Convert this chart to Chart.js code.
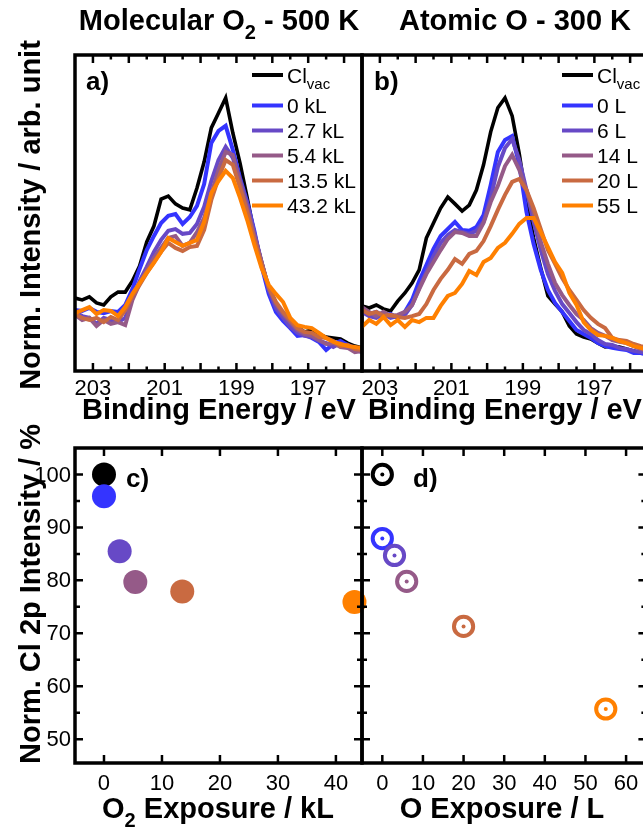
<!DOCTYPE html>
<html>
<head>
<meta charset="utf-8">
<script src="https://cdn.jsdelivr.net/npm/chart.js@4.4.0/dist/chart.umd.min.js"></script>
<style>
  html, body { margin: 0; padding: 0; background: #fff; width: 643px; height: 829px; overflow: hidden; }
  canvas { position: absolute; left: 0; top: 0; }
</style>
</head>
<body>
<canvas id="panelA" width="660" height="829"></canvas>
<canvas id="panelB" width="660" height="829"></canvas>
<canvas id="panelC" width="660" height="829"></canvas>
<canvas id="panelD" width="660" height="829"></canvas>
<script>
// ---------- data ----------
// Cl 2p binding energy grid (eV)
const bindingEnergy = [203.5, 203.3, 203.1, 202.9, 202.7, 202.5, 202.3, 202.1, 201.9, 201.7,
  201.5, 201.3, 201.1, 200.9, 200.7, 200.5, 200.3, 200.1, 199.9, 199.7,
  199.5, 199.3, 199.1, 198.9, 198.7, 198.5, 198.3, 198.1, 197.9, 197.7,
  197.5, 197.3, 197.1, 196.9, 196.7, 196.5, 196.3, 196.1, 195.9, 195.7, 195.5];
const energyTickLabels = [203, 201, 199, 197];

// a) molecular O2 at 500 K (normalized intensity, arb. units)
const molNames = ['Cl_vac', '0 kL', '2.7 kL', '5.4 kL', '13.5 kL', '43.2 kL'];
const molClvac = [24.3, 23.7, 24.7, 22.7, 22.0, 24.7, 26.3, 26.3, 30.0, 35.0, 43.0, 48.3, 57.3, 58.3, 55.7, 54.3, 53.7, 61.0, 69.7, 81.0, 86.0, 91.0, 79.3, 69.3, 57.7, 45.7, 36.3, 27.7, 22.7, 18.3, 16.3, 14.7, 13.0, 13.7, 12.3, 11.3, 11.0, 10.7, 9.3, 8.3, 7.7];
const mol0kL   = [20.3, 20.0, 21.0, 19.7, 19.3, 20.0, 19.7, 22.0, 27.3, 34.0, 40.3, 45.0, 49.3, 51.7, 52.3, 49.0, 51.3, 55.0, 62.3, 76.0, 80.0, 81.7, 73.7, 64.3, 56.3, 46.7, 35.0, 25.7, 19.7, 16.7, 14.3, 11.7, 12.0, 11.0, 9.7, 7.0, 9.0, 10.0, 8.7, 7.7, 7.0];
const mol2p7kL = [19.7, 18.3, 17.7, 15.7, 17.7, 17.0, 16.3, 17.7, 24.3, 30.0, 34.7, 39.7, 43.7, 46.7, 47.3, 45.7, 46.0, 49.0, 54.7, 63.3, 70.3, 74.7, 71.0, 63.7, 55.7, 46.0, 36.3, 27.0, 21.0, 17.7, 14.7, 12.7, 11.7, 11.3, 10.0, 9.3, 8.0, 9.3, 8.3, 7.0, 6.3];
const mol5p4kL = [18.7, 17.0, 17.7, 15.0, 17.0, 15.7, 16.3, 15.3, 23.7, 29.0, 33.7, 37.7, 41.0, 44.3, 45.0, 41.7, 42.7, 46.3, 51.0, 59.0, 67.0, 73.0, 72.0, 63.0, 54.3, 45.0, 36.3, 27.7, 22.3, 19.0, 16.3, 13.7, 12.3, 11.7, 10.3, 9.0, 9.3, 8.0, 7.7, 6.3, 6.7];
const mol13p5kL = [19.0, 17.7, 17.0, 17.7, 16.3, 18.0, 17.0, 20.3, 25.0, 28.7, 32.7, 36.3, 39.7, 42.7, 41.0, 40.0, 41.3, 41.7, 47.0, 57.0, 64.3, 70.3, 68.7, 61.0, 53.0, 43.7, 35.7, 28.0, 23.0, 19.7, 17.0, 14.3, 13.0, 12.7, 11.3, 11.0, 10.0, 8.3, 8.7, 7.3, 7.0];
const mol43p2kL = [19.3, 20.3, 21.3, 19.0, 20.3, 20.0, 18.3, 21.3, 25.7, 29.3, 32.7, 36.0, 39.7, 44.3, 43.0, 41.7, 42.7, 43.7, 49.7, 59.3, 63.3, 66.7, 64.3, 57.7, 50.3, 42.0, 34.3, 28.7, 25.7, 23.0, 17.7, 15.3, 14.7, 14.3, 12.7, 11.0, 9.7, 9.0, 8.3, 8.0, 7.7];

// b) atomic O at 300 K
const atomNames = ['Cl_vac', '0 L', '6 L', '14 L', '20 L', '55 L'];
const atomClvac = [21.7, 21.0, 22.0, 20.7, 20.0, 23.3, 26.0, 29.3, 33.7, 44.3, 49.3, 54.3, 58.0, 55.7, 53.3, 55.3, 60.3, 68.7, 79.7, 87.7, 91.0, 85.0, 72.3, 57.0, 44.3, 34.3, 25.0, 22.3, 19.7, 15.0, 12.3, 11.3, 10.7, 9.3, 8.0, 8.3, 8.0, 7.3, 6.7, 6.0, 5.7];
const atom0L  = [20.3, 19.0, 19.7, 18.3, 19.0, 17.7, 19.7, 23.7, 30.0, 35.3, 40.7, 45.0, 47.3, 49.7, 47.0, 46.7, 48.0, 52.0, 62.0, 73.0, 77.0, 78.3, 68.7, 53.0, 42.3, 33.7, 27.0, 22.7, 19.7, 16.7, 13.7, 12.3, 11.0, 9.3, 8.3, 7.7, 7.3, 7.0, 6.0, 6.0, 5.3];
const atom6L  = [19.7, 18.3, 17.7, 19.0, 17.7, 18.3, 18.7, 22.0, 27.7, 33.0, 38.3, 42.7, 45.3, 47.0, 46.3, 45.7, 46.7, 49.7, 57.7, 68.0, 74.3, 77.3, 70.3, 60.3, 49.7, 40.3, 32.3, 26.7, 22.3, 19.3, 16.3, 13.7, 12.3, 10.3, 9.0, 8.7, 7.7, 7.3, 6.7, 6.3, 6.0];
const atom14L = [21.3, 19.7, 18.3, 19.7, 18.3, 18.7, 19.7, 22.0, 27.3, 32.3, 36.3, 40.3, 44.0, 46.3, 46.0, 45.0, 45.0, 49.3, 56.3, 61.7, 68.3, 72.0, 67.0, 60.3, 52.7, 43.0, 35.7, 29.3, 25.3, 22.0, 19.0, 17.0, 14.3, 12.7, 11.7, 10.3, 9.7, 9.3, 8.3, 7.3, 6.7];
const atom20L = [20.3, 19.0, 19.7, 18.3, 18.7, 18.0, 17.7, 18.3, 19.0, 22.3, 27.0, 30.7, 33.7, 37.3, 35.7, 39.0, 40.0, 43.3, 48.3, 53.7, 58.7, 63.0, 64.0, 60.3, 54.3, 47.3, 40.3, 35.7, 31.0, 27.0, 23.7, 20.3, 17.7, 15.7, 14.3, 11.0, 10.3, 10.0, 9.0, 8.3, 7.7];
const atom55L = [14.7, 17.0, 15.7, 18.0, 15.3, 17.0, 14.7, 17.0, 16.3, 17.7, 17.7, 21.7, 25.0, 26.0, 29.0, 33.3, 32.0, 36.3, 37.7, 41.0, 42.7, 45.7, 49.0, 51.0, 51.0, 46.3, 41.3, 36.3, 32.7, 26.0, 22.0, 16.3, 13.7, 12.0, 11.7, 11.0, 10.0, 9.3, 8.3, 7.7, 7.0];

// c) integrated Cl 2p intensity vs O2 exposure (first point: Cl_vac reference)
const o2Exposure  = [0, 0, 2.7, 5.4, 13.5, 43.2];
const o2Intensity = [100, 95.9, 85.5, 79.7, 77.9, 75.9];
// d) integrated Cl 2p intensity vs atomic O exposure
const oExposure  = [0, 0, 3, 6, 20, 55];
const oIntensity = [100, 87.9, 84.7, 79.8, 71.3, 55.7];
const percentTickLabels = [50, 60, 70, 80, 90, 100];

// ---------- styling ----------
const FONT = '"Liberation Sans", Arial, Helvetica, sans-serif';
const palette = ['#000000', '#3434ff', '#6749c6', '#955a88', '#c96a41', '#ff8000'];
const TICK_SIZE = 22;

function rich(str) {
  // text between underscores is set as a subscript
  return str.split('_').map((t, i) => ({ t, sub: i % 2 === 1 })).filter(p => p.t.length);
}
function drawParts(ctx, str, x, y, size, bold, align) {
  const parts = rich(str);
  const font = sub => `${bold ? 'bold ' : ''}${sub ? Math.round(size * 0.7) : size}px ${FONT}`;
  let w = 0;
  parts.forEach(p => { ctx.font = font(p.sub); w += ctx.measureText(p.t).width; });
  let cx = align === 'center' ? x - w / 2 : (align === 'right' ? x - w : x);
  ctx.textAlign = 'left';
  ctx.textBaseline = 'alphabetic';
  parts.forEach(p => {
    ctx.font = font(p.sub);
    ctx.fillText(p.t, cx, p.sub ? y + size * 0.3 : y);
    cx += ctx.measureText(p.t).width;
  });
}

// frame, inward tick marks, y tick labels, legend, panel tag and titles
const decor = {
  id: 'decor',
  afterDatasetsDraw(chart, args, o) {
    const ctx = chart.ctx, a = chart.chartArea, xs = chart.scales.x, ys = chart.scales.y;
    ctx.save();
    ctx.strokeStyle = '#000';
    ctx.fillStyle = '#000';
    ctx.lineWidth = 2.5;
    ctx.beginPath();
    (o.xTicks || []).forEach(([v, len]) => {
      const px = xs.getPixelForValue(v);
      ctx.moveTo(px, a.bottom); ctx.lineTo(px, a.bottom - len);
      ctx.moveTo(px, a.top); ctx.lineTo(px, a.top + len);
    });
    (o.yTicks || []).forEach(([v, len]) => {
      const py = ys.getPixelForValue(v);
      ctx.moveTo(a.left, py); ctx.lineTo(a.left + len, py);
      ctx.moveTo(a.right, py); ctx.lineTo(a.right - len, py);
    });
    ctx.stroke();
    ctx.lineWidth = 3.5;
    ctx.strokeRect(a.left, a.top, a.right - a.left, a.bottom - a.top);

    if (o.yLabels) {
      ctx.font = `${TICK_SIZE}px ${FONT}`;
      ctx.textAlign = 'right';
      ctx.textBaseline = 'middle';
      o.yLabels.forEach(v => ctx.fillText(String(v), a.left - 4, ys.getPixelForValue(v) + 1));
    }
    if (o.legend) {
      const L = o.legend;
      L.names.forEach((name, i) => {
        const y = L.rows[i];
        ctx.strokeStyle = palette[i];
        ctx.lineWidth = 4;
        ctx.beginPath(); ctx.moveTo(L.x, y); ctx.lineTo(L.x + 31, y); ctx.stroke();
        ctx.fillStyle = '#000';
        drawParts(ctx, name, L.x + 35, y + 7.5, 21, false, 'left');
      });
    }
    if (o.tag) {
      ctx.fillStyle = '#000';
      drawParts(ctx, o.tag.text, o.tag.x, o.tag.y, 26, true, 'left');
    }
    (o.texts || []).forEach(t => {
      ctx.fillStyle = '#000';
      if (t.rotate) {
        ctx.save();
        ctx.translate(t.x, t.y);
        ctx.rotate(-Math.PI / 2);
        drawParts(ctx, t.text, 0, 0, 29, true, 'center');
        ctx.restore();
      } else {
        drawParts(ctx, t.text, t.x, t.y, 29, true, 'center');
      }
    });
    ctx.restore();
  }
};

const tickFont = { family: FONT, size: TICK_SIZE };
const energyTicks = [];
[203, 202, 201, 200, 199, 198, 197, 196].forEach(v => energyTicks.push([v, 8]));
[202.5, 201.5, 200.5, 199.5, 198.5, 197.5, 196.5].forEach(v => energyTicks.push([v, 4.5]));

function spectrumChart(id, series, names, pad, decorOpts) {
  return new Chart(document.getElementById(id), {
    type: 'line',
    data: {
      datasets: series.map((vals, i) => ({
        label: names[i],
        data: bindingEnergy.map((e, k) => ({ x: e, y: vals[k] })),
        borderColor: palette[i],
        borderWidth: i === 0 ? 3.6 : 4,
        pointRadius: 0,
        tension: 0,
        fill: false,
        order: series.length - i
      }))
    },
    options: {
      responsive: false, animation: false, events: [],
      layout: { padding: pad },
      plugins: { legend: { display: false }, tooltip: { enabled: false }, decor: decorOpts },
      scales: {
        x: {
          type: 'linear', reverse: true, min: 195.5, max: 203.5,
          afterBuildTicks: s => { s.ticks = energyTickLabels.map(v => ({ value: v })); },
          afterFit: s => { s.height = 45; },
          grid: { display: false, drawTicks: false }, border: { display: false },
          ticks: { font: tickFont, color: '#000', padding: 5, maxRotation: 0, autoSkip: false }
        },
        y: { display: false, min: 0, max: 105.3 }
      }
    },
    plugins: [decor]
  });
}

function exposureChart(id, xs, ys, xMin, xMax, xLabels, pad, rings, decorOpts) {
  const pts = xs.map((x, i) => ({ x, y: ys[i] }));
  const datasets = rings ? [
    { data: pts, pointRadius: 2, pointBackgroundColor: palette, pointBorderWidth: 0, clip: false, order: 0 },
    { data: pts, pointRadius: 9.6, pointBackgroundColor: '#fff', pointBorderColor: palette, pointBorderWidth: 4, clip: false, order: 1 }
  ] : [
    { data: pts, pointRadius: 12, pointBackgroundColor: palette, pointBorderWidth: 0, clip: false }
  ];
  return new Chart(document.getElementById(id), {
    type: 'scatter',
    data: { datasets },
    options: {
      responsive: false, animation: false, events: [],
      layout: { padding: pad },
      plugins: { legend: { display: false }, tooltip: { enabled: false }, decor: decorOpts },
      scales: {
        x: {
          type: 'linear', min: xMin, max: xMax,
          afterBuildTicks: s => { s.ticks = xLabels.map(v => ({ value: v })); },
          afterFit: s => { s.height = 45; },
          grid: { display: false, drawTicks: false }, border: { display: false },
          ticks: { font: tickFont, color: '#000', padding: 8, maxRotation: 0, autoSkip: false }
        },
        y: { display: false, min: 45.5, max: 105 }
      }
    },
    plugins: [decor]
  });
}

const percentTicks = [];
[50, 60, 70, 80, 90, 100].forEach(v => percentTicks.push([v, 8]));
[55, 65, 75, 85, 95].forEach(v => percentTicks.push([v, 5]));

spectrumChart('panelA',
  [molClvac, mol0kL, mol2p7kL, mol5p4kL, mol13p5kL, mol43p2kL], molNames,
  { left: 75, right: 298, top: 55, bottom: 413 },
  {
    xTicks: energyTicks,
    legend: { x: 252, rows: [75, 105.5, 130.5, 155.5, 180.5, 205.5], names: molNames },
    tag: { text: 'a)', x: 86, y: 90 },
    texts: [
      { text: 'Molecular O_2_ - 500 K', x: 219, y: 30 },
      { text: 'Binding Energy / eV', x: 219, y: 419 },
      { text: 'Norm. Intensity / arb. unit', x: 40, y: 215, rotate: true }
    ]
  });

spectrumChart('panelB',
  [atomClvac, atom0L, atom6L, atom14L, atom20L, atom55L], atomNames,
  { left: 362, right: 12, top: 55, bottom: 413 },
  {
    xTicks: energyTicks,
    legend: { x: 562, rows: [75, 105.5, 130.5, 155.5, 180.5, 205.5], names: atomNames },
    tag: { text: 'b)', x: 374, y: 90 },
    texts: [
      { text: 'Atomic O - 300 K', x: 515, y: 30 },
      { text: 'Binding Energy / eV', x: 505, y: 419 }
    ]
  });

exposureChart('panelC', o2Exposure, o2Intensity, -5, 44.5, [0, 10, 20, 30, 40],
  { left: 75, right: 298, top: 448, bottom: 21 }, false,
  {
    xTicks: [0, 10, 20, 30, 40].map(v => [v, 8]),
    yTicks: percentTicks,
    yLabels: percentTickLabels,
    tag: { text: 'c)', x: 126, y: 487 },
    texts: [
      { text: 'O_2_ Exposure / kL', x: 218, y: 818 },
      { text: 'Norm. Cl 2p Intensity / %', x: 40, y: 594, rotate: true }
    ]
  });

exposureChart('panelD', oExposure, oIntensity, -5, 65, [0, 10, 20, 30, 40, 50, 60],
  { left: 362, right: 10, top: 448, bottom: 21 }, true,
  {
    xTicks: [0, 10, 20, 30, 40, 50, 60].map(v => [v, 8]),
    yTicks: percentTicks,
    tag: { text: 'd)', x: 413, y: 487 },
    texts: [
      { text: 'O Exposure / L', x: 502, y: 818 }
    ]
  });
</script>
</body>
</html>
